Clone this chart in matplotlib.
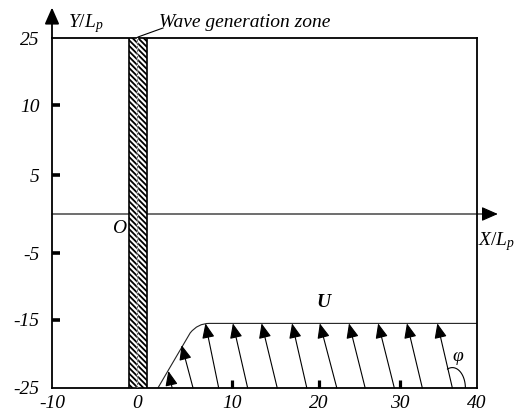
import numpy as np
import matplotlib
matplotlib.use("Agg")
import matplotlib.pyplot as plt
from matplotlib.path import Path
from matplotlib.patches import PathPatch, Rectangle

plt.rcParams["font.family"] = ["Liberation Serif", "DejaVu Serif"]
plt.rcParams["mathtext.fontset"] = "custom"
plt.rcParams["mathtext.rm"] = "Liberation Serif"
plt.rcParams["mathtext.it"] = "Liberation Serif:italic"
plt.rcParams["mathtext.bf"] = "Liberation Serif:bold"
plt.rcParams["hatch.linewidth"] = 1.3

# ---- axis ticks (schematic, unevenly spaced) ----
x_ticks = [-10, 0, 10, 20, 30, 40]
x_tick_labels = ["-10", "0", "10", "20", "30", "40"]
x_tick_marks = [0, 10, 20, 30]
y_ticks = [-25, -15, -5, 0, 5, 10, 25]
y_tick_labels = ["-25", "-15", "-5", "", "5", "10", "25"]
y_tick_marks = [-15, -5, 5, 10]

# drawing positions of the tick values along each axis (pixels)
x_tick_pos = [0, 85, 180, 267, 348, 425]
y_tick_pos = [0, 68, 135, 174, 213, 283, 350]

# ---- wave generation zone ----
zone_x = (-1.0, 1.0)

# ---- current region boundary ----
boundary_x = [2.2, 5.6, 6.4, 7.6, 40.0]
boundary_y = [-25.0, -16.9, -15.5, -15.5, -15.5]

# ---- current velocity arrows (foot on the bottom wall, tip on the boundary) ----
arrow_foot_x = [3.7, 5.9, 8.6, 11.8, 15.2, 18.6, 22.2, 25.7, 29.3, 32.9, 36.8]
arrow_tip_x = [3.3, 4.7, 7.2, 10.1, 13.4, 16.9, 20.1, 23.7, 27.3, 30.9, 34.85]
arrow_tip_y = [-22.5, -18.7, -15.5, -15.5, -15.5, -15.5, -15.5, -15.5, -15.5, -15.5, -15.5]


def fx(v):
    return np.interp(v, x_ticks, x_tick_pos)


def fx_inv(p):
    return np.interp(p, x_tick_pos, x_ticks)


def fy(v):
    return np.interp(v, y_ticks, y_tick_pos)


def fy_inv(p):
    return np.interp(p, y_tick_pos, y_ticks)


fig = plt.figure(figsize=(5.16, 4.13), dpi=100)
ax = fig.add_axes([52 / 516, 25 / 413, 425 / 516, 350 / 413])
ax.set_xscale("function", functions=(fx, fx_inv))
ax.set_yscale("function", functions=(fy, fy_inv))
ax.set_xlim(-10, 40)
ax.set_ylim(-25, 25)

for s in ax.spines.values():
    s.set_linewidth(1.3)

ax.xaxis.remove_overlapping_locs = False
ax.yaxis.remove_overlapping_locs = False
ax.set_xticks(x_ticks)
ax.set_xticklabels(x_tick_labels, fontstyle="italic", fontsize=14)
ax.set_yticks(y_ticks)
ax.set_yticklabels(y_tick_labels, fontstyle="italic", fontsize=14)
ax.set_xticks(x_tick_marks, minor=True)
ax.set_yticks(y_tick_marks, minor=True)
ax.tick_params(which="major", length=0)
ax.tick_params(axis="x", which="major", pad=5)
ax.tick_params(axis="y", which="major", pad=9)
ax.tick_params(axis="y", which="minor", direction="in", length=5.5, width=2.6, color="black")
ax.tick_params(axis="x", which="minor", direction="in", length=6, width=2.3, color="black")

# axis arrows
head = "-|>,head_length=0.5,head_width=0.22"
ax.annotate("", xy=(0, 1.087), xytext=(0, 1.0), xycoords="axes fraction",
            arrowprops=dict(arrowstyle=head, lw=1.3, color="black",
                            shrinkA=0, shrinkB=0, mutation_scale=20),
            annotation_clip=False)
ax.annotate("", xy=(1.049, 0), xytext=(0, 0), xycoords=("axes fraction", "data"),
            arrowprops=dict(arrowstyle=head, lw=0.8, color="black",
                            shrinkA=0, shrinkB=0, mutation_scale=20),
            annotation_clip=False)

ax.text(0.037, 1.031, r"$Y/L_p$", transform=ax.transAxes, fontsize=14,
        ha="left", va="baseline")
ax.text(1.003, 0.409, r"$X/L_p$", transform=ax.transAxes, fontsize=14,
        ha="left", va="baseline", clip_on=False)
ax.text(-2.1, -1.9, "O", fontstyle="italic", fontsize=14, ha="center", va="center")

# wave generation zone
ax.add_patch(Rectangle((zone_x[0], -25), zone_x[1] - zone_x[0], 50,
                       facecolor="white", edgecolor="black", lw=1.2,
                       hatch="\\\\\\\\\\\\", zorder=3))
ax.plot([0, 0], [-25, 25], color="white", lw=1.0, zorder=4)
ax.plot([0, 0], [-25, 25], color="#555555", lw=0.6, ls=(0, (3, 1)), zorder=4)
ax.plot([0.2024, 0.2612], [1.0029, 1.0286], transform=ax.transAxes, color="black",
        lw=0.8, clip_on=False)
ax.text(0.252, 1.031, "Wave generation zone", transform=ax.transAxes,
        fontstyle="italic", fontsize=14, ha="left", va="baseline")

# current region boundary
codes = [Path.MOVETO, Path.LINETO, Path.CURVE3, Path.CURVE3, Path.LINETO]
ax.add_patch(PathPatch(Path(np.column_stack([boundary_x, boundary_y]), codes),
                       facecolor="none", edgecolor="#222222", lw=0.8, zorder=2))

# current velocity arrows
for x0, x1, y1 in zip(arrow_foot_x, arrow_tip_x, arrow_tip_y):
    ax.annotate("", xy=(x1, y1), xytext=(x0, -25),
                arrowprops=dict(arrowstyle="-|>,head_length=0.45,head_width=0.19",
                                lw=0.8, color="black", shrinkA=0, shrinkB=0,
                                mutation_scale=20), zorder=5)

# angle phi between the current and the x direction
t = np.linspace(0, np.radians(112), 40)
ax.plot(arrow_foot_x[-1] + 1.69 * np.cos(t), -25 + 3.0 * np.sin(t),
        color="black", lw=0.8)
ax.text(37.5, -20.4, "\u03c6", fontstyle="italic", fontsize=14, ha="center", va="center")
ax.text(20.5, -12.4, "U", fontstyle="italic", fontweight="bold", fontsize=14,
        ha="center", va="center")

fig.savefig("out.png", dpi=100)
